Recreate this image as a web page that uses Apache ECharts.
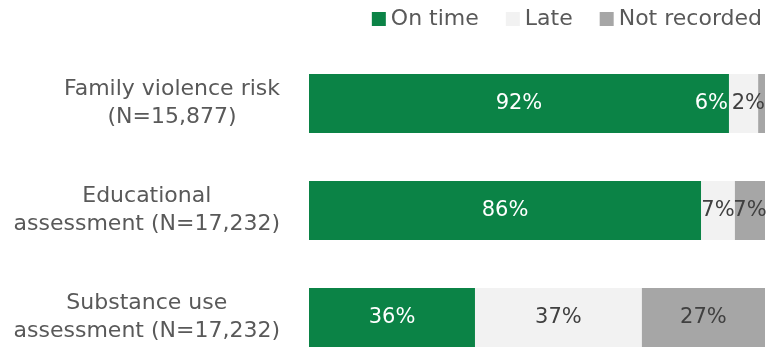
<!DOCTYPE html>
<html><head><meta charset="utf-8">
<script src="https://cdn.jsdelivr.net/npm/echarts@6/dist/echarts.min.js"></script>
<style>html,body{margin:0;padding:0;background:#fff;overflow:hidden}#c{width:778px;height:400px}</style>
</head><body><div id="c"></div>
<script>
const categories = ['Family violence risk\n(N=15,877)', 'Educational\nassessment (N=17,232)', 'Substance use\nassessment (N=17,232)'];
const seriesNames = ['On time', 'Late', 'Not recorded'];
const onTime = [92.1, 86.0, 36.4];
const late = [6.4, 7.4, 36.6];
const notRecorded = [1.5, 6.6, 27.0];

const FONT = '"DejaVu Sans"';
const fmt = p => Math.round(p.value) + '%';
const chart = echarts.init(document.getElementById('c'), null, {renderer: 'canvas'});
function mk(name, arr, color, labelColor, overrides) {
  return {
    name, type: 'bar', stack: 'a', barWidth: 59,
    itemStyle: {color},
    label: {show: true, position: 'inside', formatter: fmt, color: labelColor, fontFamily: FONT, fontSize: 21},
    emphasis: {disabled: true},
    data: arr.map((v, i) => overrides && overrides[i] ? Object.assign({value: v}, overrides[i]) : v)
  };
}
chart.setOption({
  animation: false,
  textStyle: {fontFamily: FONT},
  legend: {
    right: 16, top: 8, padding: 0, icon: 'rect', itemWidth: 14, itemHeight: 14, itemGap: 27,
    textStyle: {color: '#595959', fontSize: 22, fontFamily: FONT},
    data: seriesNames
  },
  grid: {left: 309, right: 13, top: 50, height: 321, containLabel: false},
  xAxis: {type: 'value', min: 0, max: 100, show: false},
  yAxis: {
    type: 'category', inverse: true, data: categories,
    axisLine: {show: false}, axisTick: {show: false},
    axisLabel: {
      align: 'right', margin: 29,
      formatter: v => v.split('\n').map(l => '{c|' + l + '}').join('\n'),
      rich: {c: {align: 'center', color: '#595959', fontSize: 22, fontFamily: FONT, lineHeight: 28}}
    }
  },
  series: [
    mk(seriesNames[0], onTime, '#0B8346', '#ffffff'),
    mk(seriesNames[1], late, '#F2F2F2', '#404040', {0: {label: {position: 'left', distance: 1, color: '#ffffff'}}}),
    mk(seriesNames[2], notRecorded, '#A6A6A6', '#404040', {0: {label: {position: 'insideRight', distance: 0}}})
  ]
});
</script></body></html>
